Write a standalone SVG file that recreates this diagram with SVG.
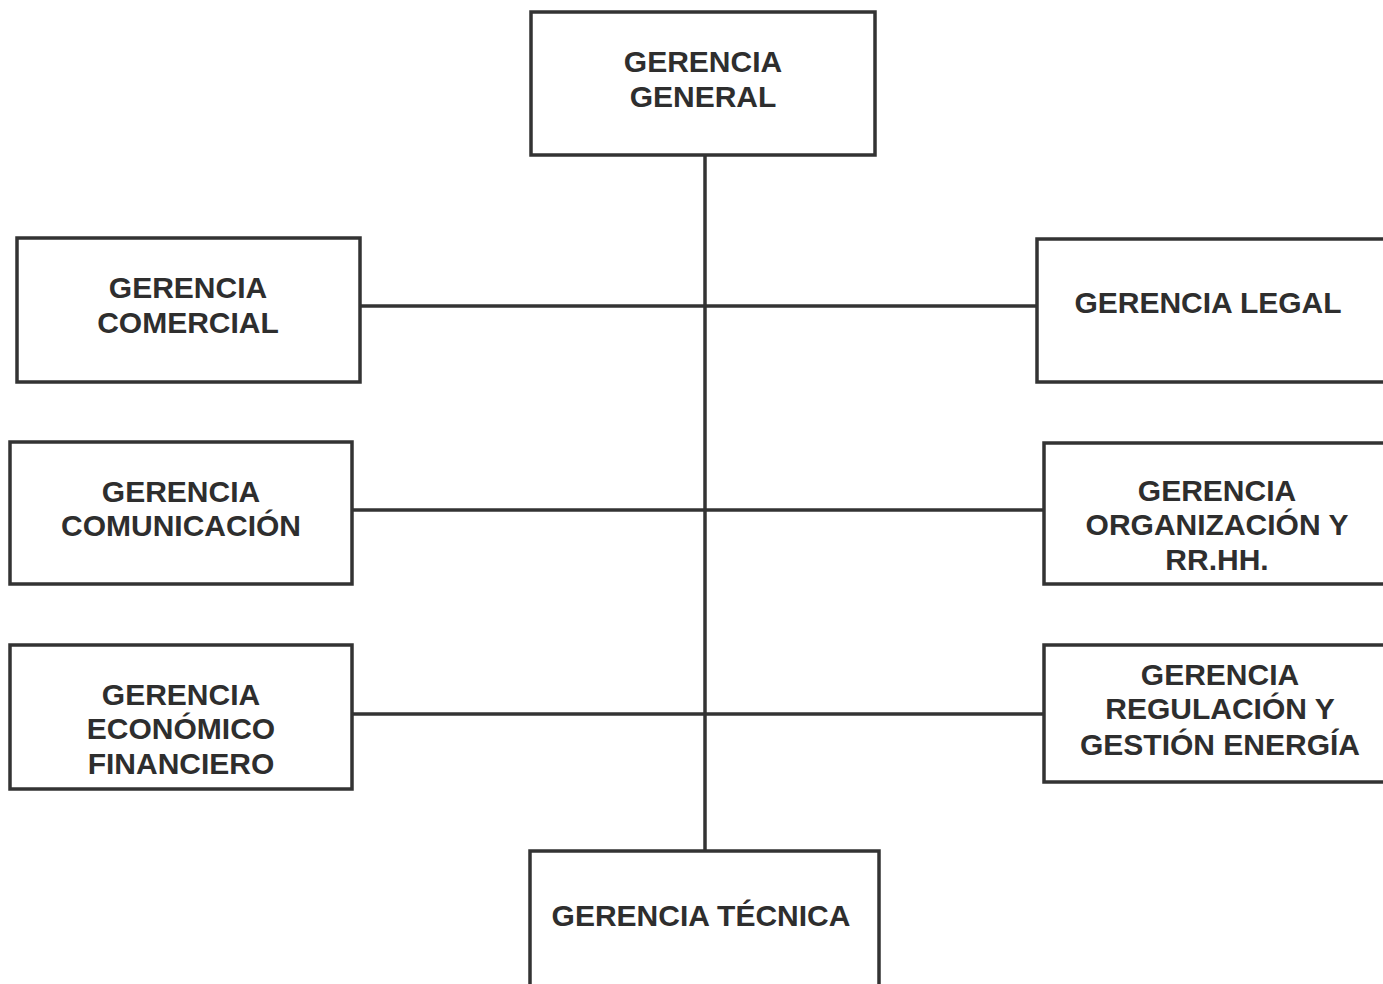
<svg xmlns="http://www.w3.org/2000/svg" width="1383" height="984" viewBox="0 0 1383 984">
<style>
.box{fill:#fff;stroke:#333;stroke-width:3.5}
.t{font-family:"Liberation Sans",Arial,sans-serif;font-weight:bold;font-size:30px;fill:#2e2e2e;text-anchor:middle}
.c{stroke:#333;stroke-width:3.5;fill:none}
</style>
<rect width="1383" height="984" fill="#fff"/>
<g id="connectors">
<line class="c" x1="705" y1="155" x2="705" y2="851"/>
<line class="c" x1="360" y1="306" x2="1037" y2="306"/>
<line class="c" x1="352" y1="510" x2="1044" y2="510"/>
<line class="c" x1="352" y1="714" x2="1044" y2="714"/>
</g>
<g id="gerencia-general">
<rect class="box" x="531" y="12" width="344" height="143"/>
<text class="t" x="703" y="72">GERENCIA</text>
<text class="t" x="703" y="107">GENERAL</text>
</g>
<g id="gerencia-comercial">
<rect class="box" x="17" y="238" width="343" height="144"/>
<text class="t" x="188" y="298">GERENCIA</text>
<text class="t" x="188" y="333">COMERCIAL</text>
</g>
<g id="gerencia-legal">
<rect class="box" x="1037" y="239" width="350" height="143"/>
<text class="t" x="1208" y="313">GERENCIA LEGAL</text>
</g>
<g id="gerencia-comunicacion">
<rect class="box" x="10" y="442" width="342" height="142"/>
<text class="t" x="181" y="502">GERENCIA</text>
<text class="t" x="181" y="536">COMUNICACIÓN</text>
</g>
<g id="gerencia-organizacion">
<rect class="box" x="1044" y="443" width="350" height="141"/>
<text class="t" x="1217" y="501">GERENCIA</text>
<text class="t" x="1217" y="535">ORGANIZACIÓN Y</text>
<text class="t" x="1217" y="570">RR.HH.</text>
</g>
<g id="gerencia-economico">
<rect class="box" x="10" y="645" width="342" height="144"/>
<text class="t" x="181" y="705">GERENCIA</text>
<text class="t" x="181" y="739">ECONÓMICO</text>
<text class="t" x="181" y="774">FINANCIERO</text>
</g>
<g id="gerencia-regulacion">
<rect class="box" x="1044" y="645" width="350" height="137"/>
<text class="t" x="1220" y="685">GERENCIA</text>
<text class="t" x="1220" y="719">REGULACIÓN Y</text>
<text class="t" x="1220" y="755">GESTIÓN ENERGÍA</text>
</g>
<g id="gerencia-tecnica">
<rect class="box" x="530" y="851" width="349" height="150"/>
<text class="t" x="701" y="926">GERENCIA TÉCNICA</text>
</g>
</svg>
